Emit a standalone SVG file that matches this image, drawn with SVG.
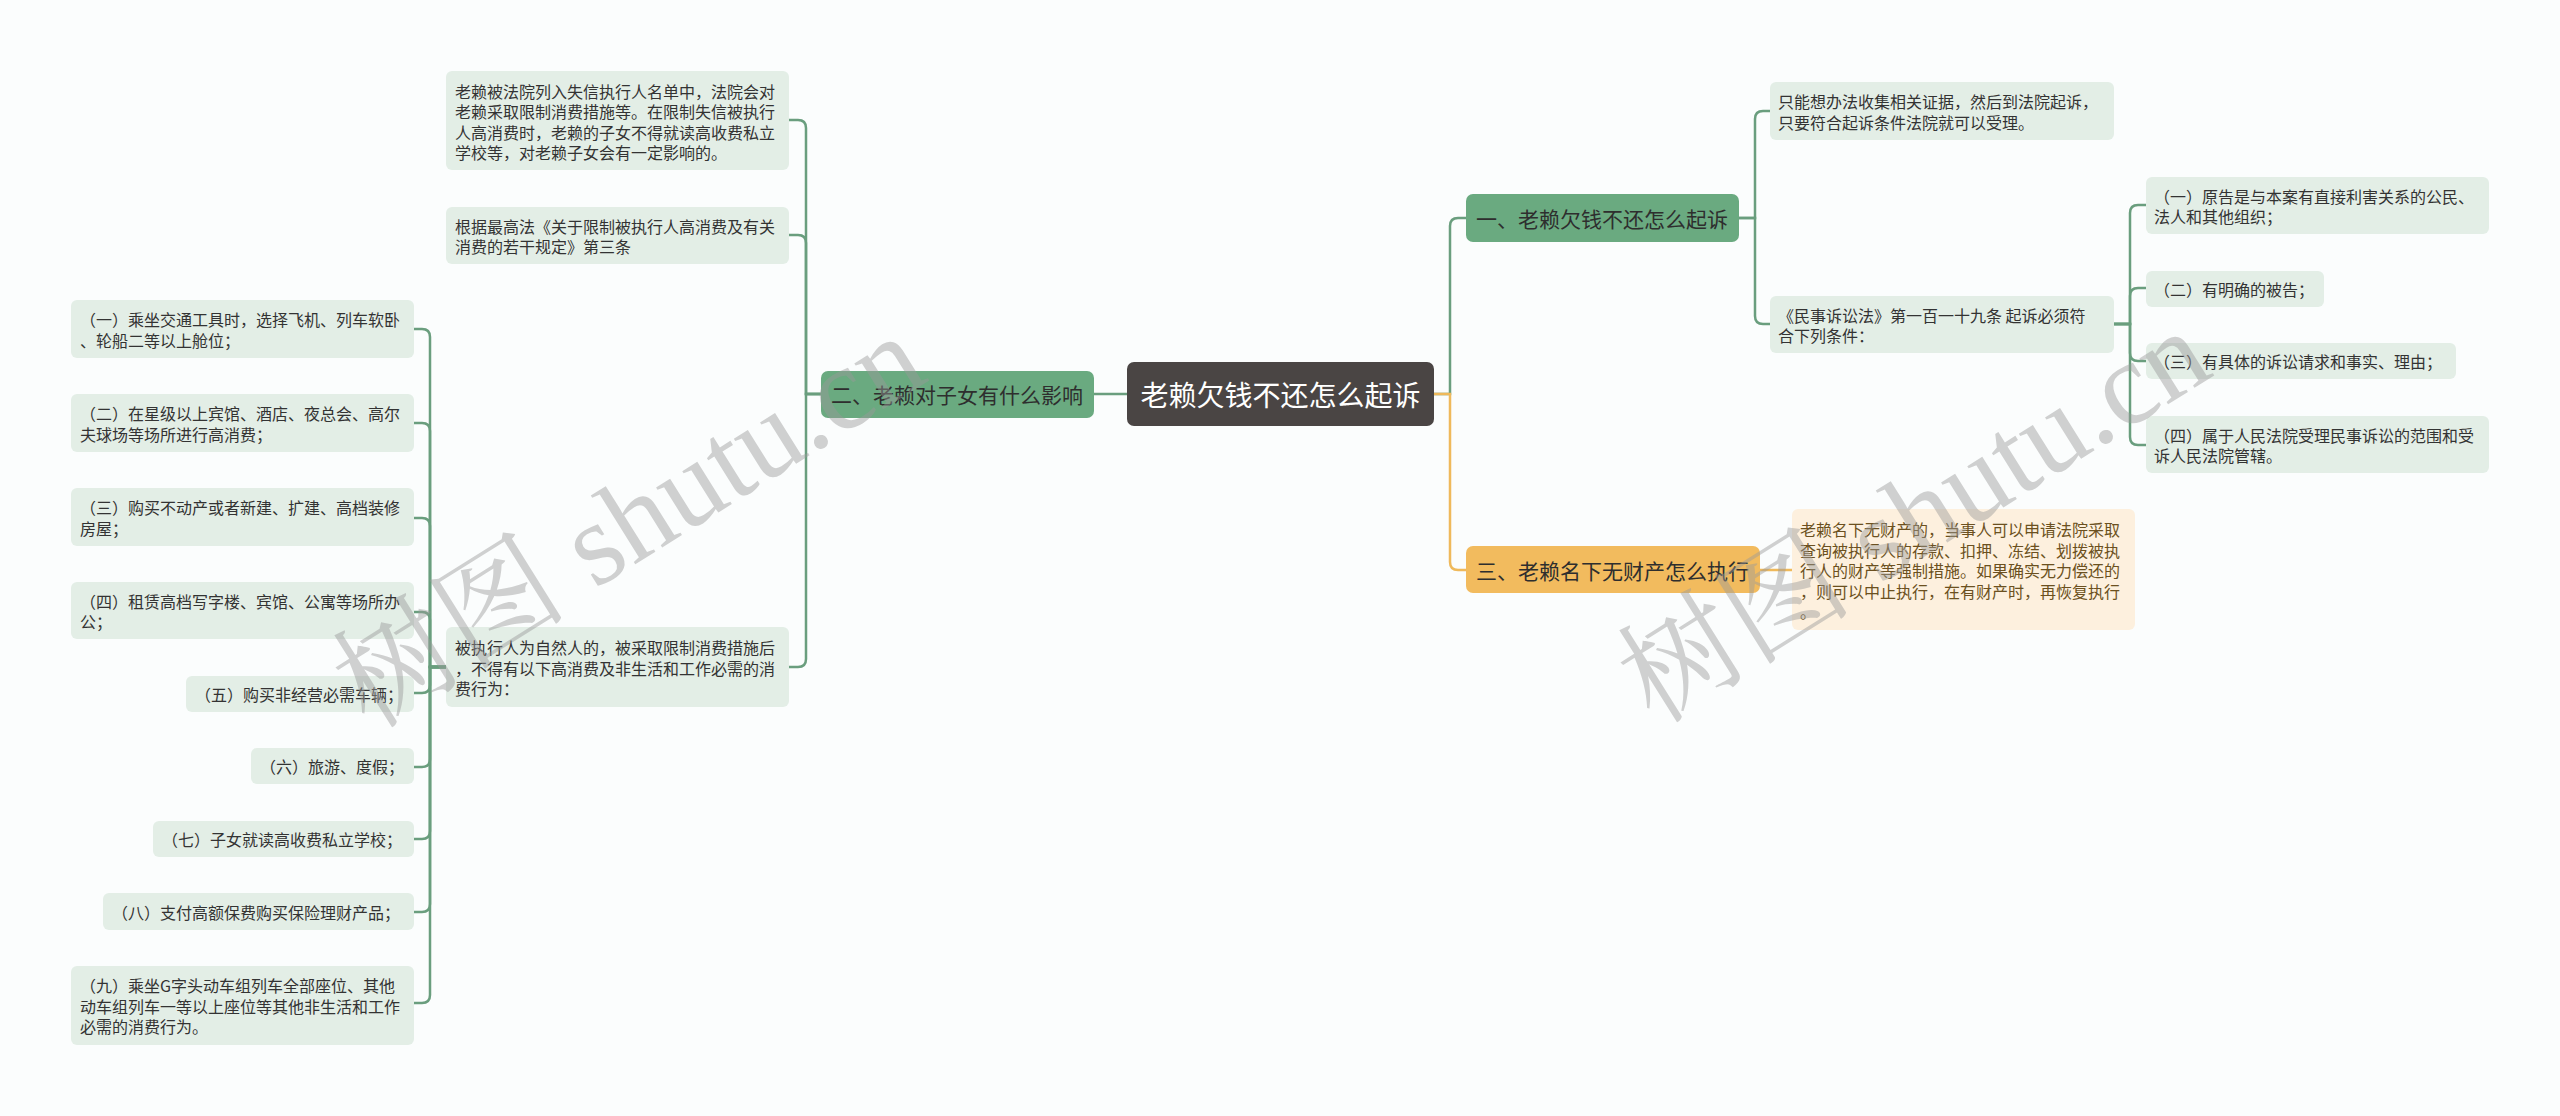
<svg xmlns="http://www.w3.org/2000/svg" width="2560" height="1116" viewBox="0 0 2560 1116">
<style>
text{font-family:"Noto Sans CJK SC","Liberation Sans",sans-serif;dominant-baseline:central}
.leaf rect{fill:#e3eee6}
.leaf text{font-size:16px;fill:#333}
.br rect{fill:#6aaa80}
.br text{font-size:21px;fill:#2e2e2e}
.or rect{fill:#f2bb5e}
.orleaf rect{fill:#fdf0de}
.orleaf text{font-size:16px;fill:#6b5020}
.g{fill:none;stroke:#6a9e7e;stroke-width:2.5}
.o{fill:none;stroke:#efb95b;stroke-width:2.5}
.wm{font-family:"Liberation Serif","Noto Serif CJK SC","Noto Sans CJK SC",serif;font-size:118px;fill:#9a9a9a;opacity:0.45;dominant-baseline:auto}
</style>
<rect width="2560" height="1116" fill="#fbfdfd"/>
<g id="connectors">
<path class="g" d="M1127,394 H1094"/>
<path class="g" d="M1434,394 H1450 V226 Q1450,218 1458,218 H1466"/>
<path class="o" d="M1434,394 H1450 V562 Q1450,570 1458,570 H1466"/>
<path class="o" d="M1760,570 H1792"/>
<path class="g" d="M821,394 H806 V128 Q806,120 798,120 H789"/>
<path class="g" d="M821,394 H806 V243 Q806,235 798,235 H789"/>
<path class="g" d="M821,394 H806 V659 Q806,667 798,667 H789"/>
<path class="g" d="M446,667 H430 V337 Q430,329 422,329 H414"/>
<path class="g" d="M446,667 H430 V431 Q430,423 422,423 H414"/>
<path class="g" d="M446,667 H430 V526 Q430,518 422,518 H414"/>
<path class="g" d="M446,667 H430 V620 Q430,612 422,612 H414"/>
<path class="g" d="M446,667 H430 V685 Q430,693 422,693 H414"/>
<path class="g" d="M446,667 H430 V759 Q430,767 422,767 H414"/>
<path class="g" d="M446,667 H430 V831 Q430,839 422,839 H414"/>
<path class="g" d="M446,667 H430 V904 Q430,912 422,912 H414"/>
<path class="g" d="M446,667 H430 V995 Q430,1003 422,1003 H414"/>
<path class="g" d="M1739,218 H1755 V119 Q1755,111 1763,111 H1770"/>
<path class="g" d="M1739,218 H1755 V316 Q1755,324 1763,324 H1770"/>
<path class="g" d="M2114,324 H2130 V213 Q2130,205 2138,205 H2146"/>
<path class="g" d="M2114,324 H2130 V296 Q2130,288 2138,288 H2146"/>
<path class="g" d="M2114,324 H2130 V353 Q2130,361 2138,361 H2146"/>
<path class="g" d="M2114,324 H2130 V437 Q2130,445 2138,445 H2146"/>
</g>
<g id="root"><rect x="1127" y="362" width="307" height="64" rx="7" fill="#4a4544"/><text x="1280.5" y="394" font-size="28" fill="#fff" text-anchor="middle">老赖欠钱不还怎么起诉</text></g>
<g id="b1" class="br"><rect x="1466" y="194" width="273" height="48" rx="7"/><text x="1476" y="218">一、老赖欠钱不还怎么起诉</text></g>
<g id="b2" class="br"><rect x="821" y="371" width="273" height="47" rx="7"/><text x="831" y="394">二、老赖对子女有什么影响</text></g>
<g id="b3" class="or"><rect x="1466" y="546" width="294" height="47" rx="7"/><text x="1476" y="570" font-size="21" fill="#2e2e2e">三、老赖名下无财产怎么执行</text></g>
<g id="c1" class="leaf"><rect x="446" y="71" width="343" height="99" rx="6"/><text x="455"><tspan x="455" y="90.5">老赖被法院列入失信执行人名单中，法院会对</tspan><tspan x="455" y="111">老赖采取限制消费措施等。在限制失信被执行</tspan><tspan x="455" y="131.5">人高消费时，老赖的子女不得就读高收费私立</tspan><tspan x="455" y="152">学校等，对老赖子女会有一定影响的。</tspan></text></g>
<g id="c2" class="leaf"><rect x="446" y="207" width="343" height="57" rx="6"/><text><tspan x="455" y="225.5">根据最高法《关于限制被执行人高消费及有关</tspan><tspan x="455" y="246">消费的若干规定》第三条</tspan></text></g>
<g id="c3" class="leaf"><rect x="446" y="627" width="343" height="80" rx="6"/><text><tspan x="455" y="647">被执行人为自然人的，被采取限制消费措施后</tspan><tspan x="455" y="667.5">，不得有以下高消费及非生活和工作必需的消</tspan><tspan x="455" y="688">费行为：</tspan></text></g>
<g id="g1" class="leaf"><rect x="71" y="300" width="343" height="58" rx="6"/><text><tspan x="80" y="319">（一）乘坐交通工具时，选择飞机、列车软卧</tspan><tspan x="80" y="339.5">、轮船二等以上舱位；</tspan></text></g>
<g id="g2" class="leaf"><rect x="71" y="394" width="343" height="58" rx="6"/><text><tspan x="80" y="413">（二）在星级以上宾馆、酒店、夜总会、高尔</tspan><tspan x="80" y="433.5">夫球场等场所进行高消费；</tspan></text></g>
<g id="g3" class="leaf"><rect x="71" y="488" width="343" height="58" rx="6"/><text><tspan x="80" y="507">（三）购买不动产或者新建、扩建、高档装修</tspan><tspan x="80" y="527.5">房屋；</tspan></text></g>
<g id="g4" class="leaf"><rect x="71" y="582" width="343" height="57" rx="6"/><text><tspan x="80" y="600.5">（四）租赁高档写字楼、宾馆、公寓等场所办</tspan><tspan x="80" y="621">公；</tspan></text></g>
<g id="g5" class="leaf"><rect x="186" y="676" width="228" height="36" rx="6"/><text x="195" y="694">（五）购买非经营必需车辆；</text></g>
<g id="g6" class="leaf"><rect x="251" y="748" width="163" height="36" rx="6"/><text x="260" y="766">（六）旅游、度假；</text></g>
<g id="g7" class="leaf"><rect x="153" y="821" width="261" height="36" rx="6"/><text x="162" y="839">（七）子女就读高收费私立学校；</text></g>
<g id="g8" class="leaf"><rect x="103" y="893" width="311" height="37" rx="6"/><text x="112" y="911.5">（八）支付高额保费购买保险理财产品；</text></g>
<g id="g9" class="leaf"><rect x="71" y="966" width="343" height="79" rx="6"/><text><tspan x="80" y="985">（九）乘坐G字头动车组列车全部座位、其他</tspan><tspan x="80" y="1005.5">动车组列车一等以上座位等其他非生活和工作</tspan><tspan x="80" y="1026">必需的消费行为。</tspan></text></g>
<g id="a1" class="leaf"><rect x="1770" y="82" width="344" height="58" rx="6"/><text><tspan x="1778" y="101">只能想办法收集相关证据，然后到法院起诉，</tspan><tspan x="1778" y="121.5">只要符合起诉条件法院就可以受理。</tspan></text></g>
<g id="a2" class="leaf"><rect x="1770" y="296" width="344" height="57" rx="6"/><text><tspan x="1778" y="314.5">《民事诉讼法》第一百一十九条 起诉必须符</tspan><tspan x="1778" y="335">合下列条件：</tspan></text></g>
<g id="d1" class="leaf"><rect x="2146" y="177" width="343" height="57" rx="6"/><text><tspan x="2154" y="195.5">（一）原告是与本案有直接利害关系的公民、</tspan><tspan x="2154" y="216">法人和其他组织；</tspan></text></g>
<g id="d2" class="leaf"><rect x="2146" y="271" width="178" height="36" rx="6"/><text x="2154" y="289">（二）有明确的被告；</text></g>
<g id="d3" class="leaf"><rect x="2146" y="343" width="310" height="36" rx="6"/><text x="2154" y="361">（三）有具体的诉讼请求和事实、理由；</text></g>
<g id="d4" class="leaf"><rect x="2146" y="416" width="343" height="57" rx="6"/><text><tspan x="2154" y="434.5">（四）属于人民法院受理民事诉讼的范围和受</tspan><tspan x="2154" y="455">诉人民法院管辖。</tspan></text></g>
<g id="e1" class="orleaf"><rect x="1792" y="509" width="343" height="121" rx="6"/><text><tspan x="1800" y="529">老赖名下无财产的，当事人可以申请法院采取</tspan><tspan x="1800" y="549.5">查询被执行人的存款、扣押、冻结、划拨被执</tspan><tspan x="1800" y="570">行人的财产等强制措施。如果确实无力偿还的</tspan><tspan x="1800" y="590.5">，则可以中止执行，在有财产时，再恢复执行</tspan><tspan x="1800" y="611">。</tspan></text></g>
<g id="watermarks">
<text class="wm" x="650" y="555" text-anchor="middle" transform="rotate(-32 650 555)">树图 shutu.cn</text>
<text class="wm" x="1935" y="550" text-anchor="middle" transform="rotate(-32 1935 550)">树图 shutu.cn</text>
</g>
</svg>
